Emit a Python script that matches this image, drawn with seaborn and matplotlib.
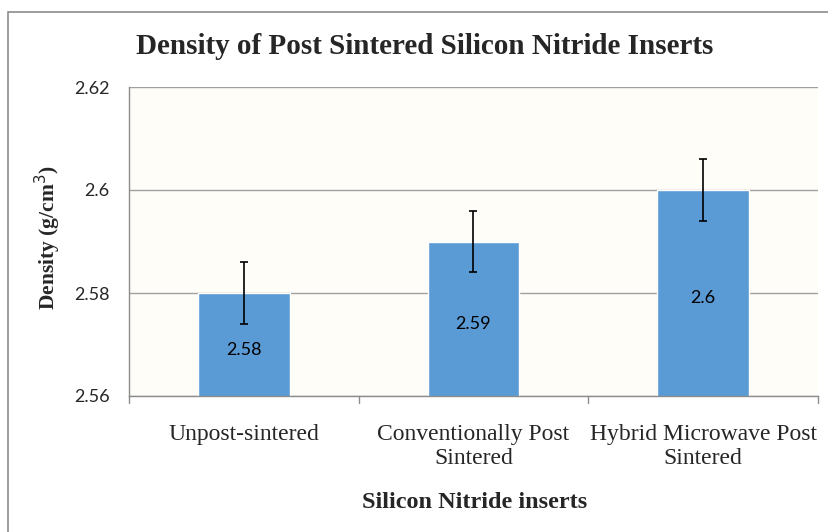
import matplotlib
matplotlib.use("Agg")
import matplotlib.pyplot as plt
import matplotlib.patches as mpatches
import pandas as pd
import seaborn as sns

categories = ["Unpost-sintered", "Conventionally Post\nSintered", "Hybrid Microwave Post\nSintered"]
density = [2.58, 2.59, 2.60]
density_err = [0.006, 0.006, 0.006]
value_labels = ["2.58", "2.59", "2.6"]
yticks = [2.56, 2.58, 2.60, 2.62]
ytick_labels = ["2.56", "2.58", "2.6", "2.62"]

sns.set_style("white")
serif = ["Liberation Serif", "DejaVu Serif"]
sans = ["Lato", "DejaVu Sans"]

df = pd.DataFrame({"category": categories, "density": density})

fig = plt.figure(figsize=(8.29, 5.32), dpi=100)
fig.patch.set_facecolor("white")
# outer chart frame (cropped at right/bottom)
fig.add_artist(mpatches.Rectangle((8 / 829, -0.05), 1.0, 1 - 12 / 532 + 0.05,
                                  transform=fig.transFigure, fill=False,
                                  edgecolor="#8C8C8C", lw=1.2))

ax = fig.add_axes([129 / 829, 1 - 396 / 532, 689 / 829, 309 / 532])
ax.set_facecolor("#FFFDF8")
sns.barplot(data=df, x="category", y="density", color="#5B9BD5", saturation=1,
            width=0.4, ax=ax, zorder=2)
ax.errorbar(range(len(categories)), density, yerr=density_err, fmt="none",
            ecolor="black", elinewidth=1.2, capsize=3, capthick=1.2, zorder=3)

ax.set_ylim(2.56, 2.62)
ax.set_xlim(-0.5, 2.5)
ax.set_yticks(yticks)
ax.set_yticklabels(ytick_labels, fontfamily=sans, fontsize=13)
ax.set_xticks(range(len(categories)))
ax.set_xticklabels(categories, fontfamily=serif, fontsize=17, linespacing=1.2)
ax.tick_params(axis="x", length=0, pad=20)
ax.tick_params(axis="y", length=4, color="#8C8C8C", width=1, pad=10)
ax.grid(axis="y", color="#A0A0A0", lw=1, zorder=0)
ax.set_axisbelow(True)
for s in ["top", "right"]:
    ax.spines[s].set_visible(False)
for s in ["left", "bottom"]:
    ax.spines[s].set_color("#8C8C8C")
    ax.spines[s].set_linewidth(1)
# category separators below axis
for xb in [-0.5, 0.5, 1.5, 2.5]:
    ax.plot([xb, xb], [0, -0.022], transform=ax.get_xaxis_transform(),
            color="#8C8C8C", lw=1, clip_on=False)

for i, (v, lab) in enumerate(zip(density, value_labels)):
    ax.text(i, (v + 2.56) / 2 - 0.001, lab, ha="center", va="center",
            fontfamily=sans, fontsize=13, color="black")

ax.set_xlabel("")
ax.set_ylabel("")
fig.text(425 / 829, 1 - 46 / 532, "Density of Post Sintered Silicon Nitride Inserts",
         ha="center", va="center", fontfamily=serif, fontweight="bold", fontsize=21)
fig.text(475 / 829, 1 - 502 / 532, "Silicon Nitride inserts", ha="center",
         va="center", fontfamily=serif, fontweight="bold", fontsize=17.5)
fig.text(48 / 829, 1 - 238 / 532, "Density (g/cm$^{3}$)", ha="center", va="center",
         rotation=90, fontfamily=serif, fontweight="bold", fontsize=15.5)

fig.savefig("out.png", dpi=100)
